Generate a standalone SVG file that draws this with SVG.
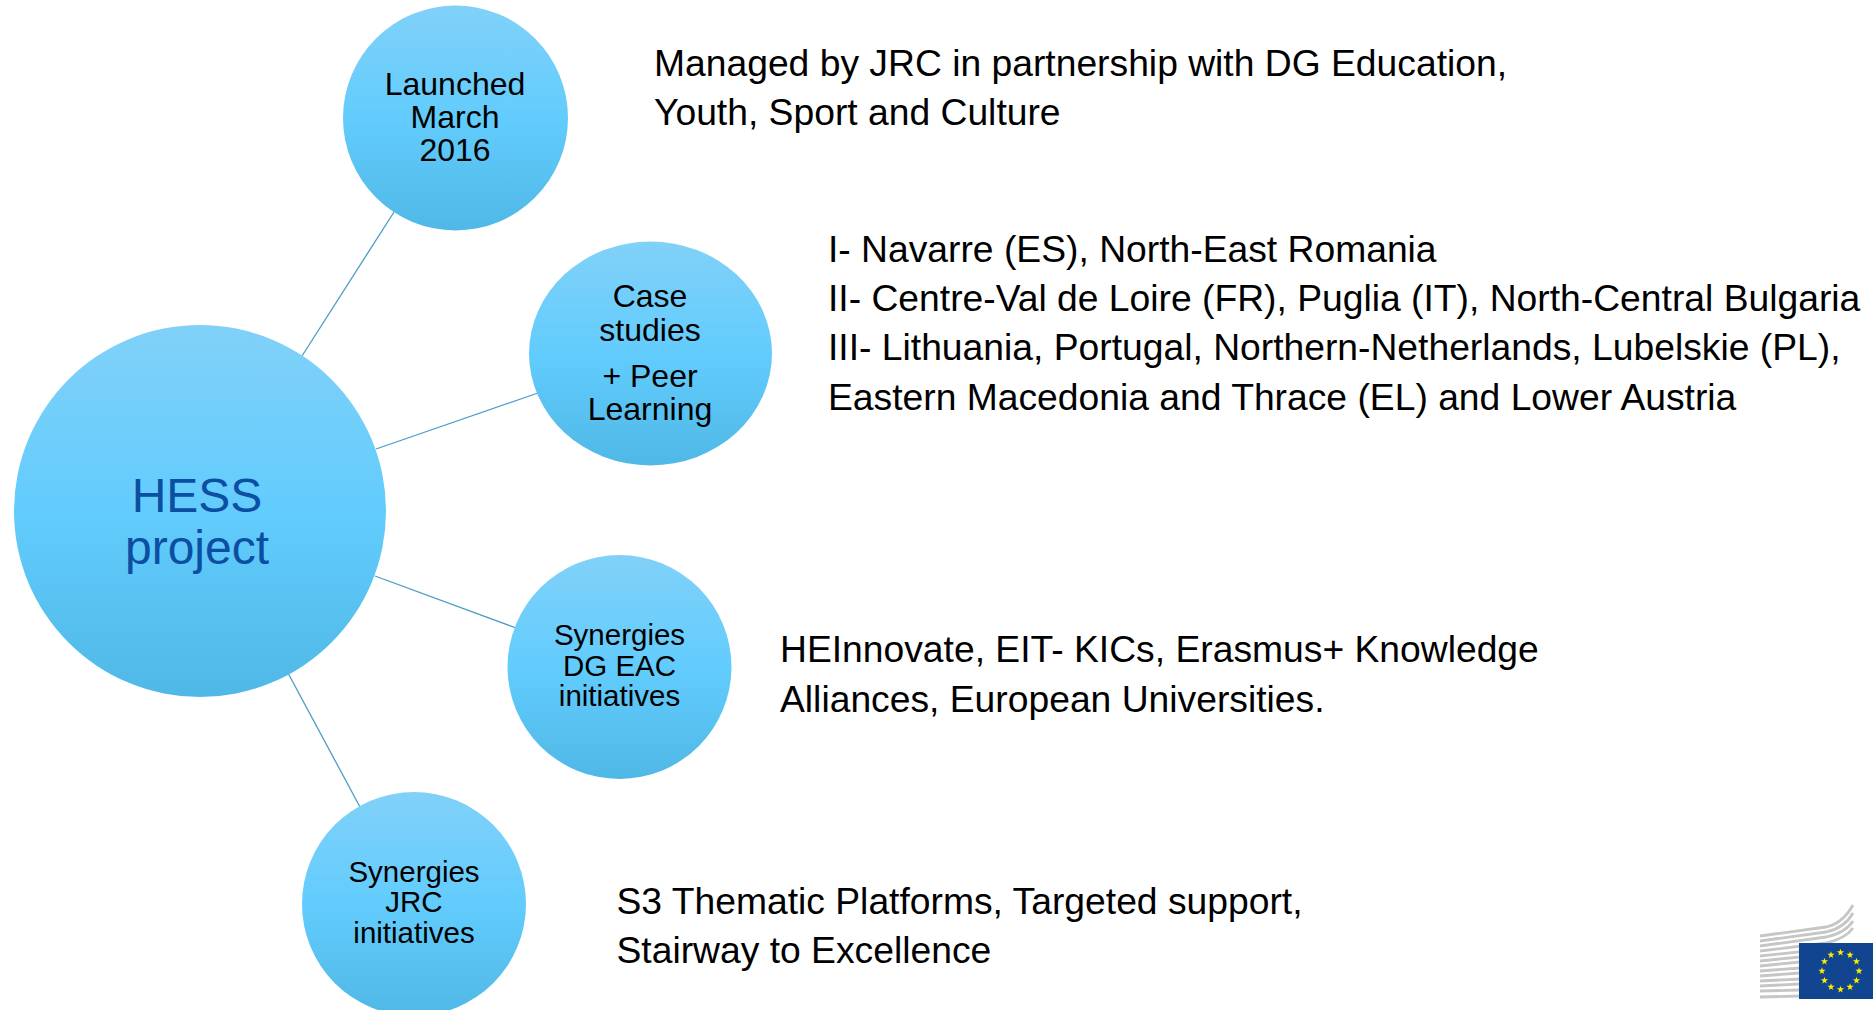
<svg xmlns="http://www.w3.org/2000/svg" width="1873" height="1010" viewBox="0 0 1873 1010">
<style>
text{font-family:"Liberation Sans",Arial,sans-serif}
.n{font-size:32px;fill:#000;text-anchor:middle}
.s{font-size:29.500px;fill:#000;text-anchor:middle}
.t{font-size:37.250px;fill:#000}
.c{stroke:#4b9cc4;stroke-width:1.300;fill:none}
.b{fill:url(#g)}
.h{font-size:48px;fill:#0b4ea2;text-anchor:middle}
.w{stroke:#c6c6c6;stroke-width:2.800;fill:none}
.y{fill:#ffed00}
</style>
<defs>
<linearGradient id="g" x1="0" y1="0" x2="0" y2="1">
<stop offset="0" stop-color="#81d1f8"/><stop offset="0.5" stop-color="#62ccfd"/><stop offset="1" stop-color="#4fb8e6"/>
</linearGradient>
<polygon id="st" points="0,-3.800 0.900,-1.200 3.600,-1.200 1.400,0.500 2.200,3.100 0,1.500 -2.200,3.100 -1.400,0.500 -3.600,-1.200 -0.900,-1.200"/>
</defs>
<rect width="1873" height="1010" fill="#fff"/>
<g id="connectors">
<line class="c" x1="302" y1="356" x2="394" y2="212"/>
<line class="c" x1="376" y1="449" x2="538" y2="393"/>
<line class="c" x1="375" y1="576" x2="516" y2="628"/>
<line class="c" x1="288" y1="673" x2="360" y2="807"/>
</g>
<g id="hess"><circle class="b" cx="200" cy="511" r="186"/>
<text class="h" x="197" y="512">HESS</text>
<text class="h" x="197" y="564">project</text></g>
<g id="launched"><circle class="b" cx="455.500" cy="118" r="112.500"/>
<text class="n" x="455" y="95">Launched</text><text class="n" x="455" y="128">March</text><text class="n" x="455" y="161">2016</text></g>
<g id="case"><ellipse class="b" cx="650.500" cy="353.500" rx="121.500" ry="112"/>
<text class="n" x="650" y="307">Case</text><text class="n" x="650" y="341">studies</text><text class="n" x="650" y="387">+ Peer</text><text class="n" x="650" y="420">Learning</text></g>
<g id="eac"><circle class="b" cx="619.500" cy="667" r="112"/>
<text class="s" x="619.500" y="645">Synergies</text><text class="s" x="619.500" y="676">DG EAC</text><text class="s" x="619.500" y="706">initiatives</text></g>
<g id="jrc"><circle class="b" cx="414" cy="904" r="112"/>
<text class="s" x="414" y="882">Synergies</text><text class="s" x="414" y="912">JRC</text><text class="s" x="414" y="943">initiatives</text></g>
<g id="notes">
<text class="t" x="654" y="76">Managed by JRC in partnership with DG Education,</text>
<text class="t" x="654" y="125">Youth, Sport and Culture</text>
<text class="t" x="828" y="262">I- Navarre (ES), North-East Romania</text>
<text class="t" x="828" y="311">II- Centre-Val de Loire (FR), Puglia (IT), North-Central Bulgaria</text>
<text class="t" x="828" y="360">III- Lithuania, Portugal, Northern-Netherlands, Lubelskie (PL),</text>
<text class="t" x="828" y="410">Eastern Macedonia and Thrace (EL) and Lower Austria</text>
<text class="t" x="780" y="662">HEInnovate, EIT- KICs, Erasmus+ Knowledge</text>
<text class="t" x="780" y="712">Alliances, European Universities.</text>
<text class="t" x="616.500" y="914">S3 Thematic Platforms, Targeted support,</text>
<text class="t" x="616.500" y="963">Stairway to Excellence</text>
</g>
<g id="logo">
<path class="w" d="M1760 936L1826 927C1840 924 1848 914 1853 905"/>
<path class="w" d="M1760 941L1826 932C1840 929 1848 922 1853 913"/>
<path class="w" d="M1760 946L1826 937C1840 934 1848 929 1853 921"/>
<path class="w" d="M1760 951L1826 943C1840 940 1848 935 1853 928"/>
<path class="w" d="M1760 956L1826 949"/>
<path class="w" d="M1760 961L1800 957"/>
<path class="w" d="M1760 966L1800 962"/>
<path class="w" d="M1760 971L1800 968"/>
<path class="w" d="M1760 976L1800 973"/>
<path class="w" d="M1760 981L1800 979"/>
<path class="w" d="M1760 986L1800 984"/>
<path class="w" d="M1760 991L1800 990"/>
<path class="w" d="M1760 997L1800 996"/>
<rect x="1799" y="943" width="74" height="56" fill="#124590"/>
<g class="y">
<use href="#st" x="1840.500" y="952.500"/><use href="#st" x="1850" y="955"/><use href="#st" x="1856.500" y="961.500"/><use href="#st" x="1859" y="971"/><use href="#st" x="1856.500" y="980.500"/><use href="#st" x="1850" y="987"/><use href="#st" x="1840.500" y="989.500"/><use href="#st" x="1831" y="987"/><use href="#st" x="1824.500" y="980.500"/><use href="#st" x="1822" y="971"/><use href="#st" x="1824.500" y="961.500"/><use href="#st" x="1831" y="955"/>
</g>
</g>
</svg>
